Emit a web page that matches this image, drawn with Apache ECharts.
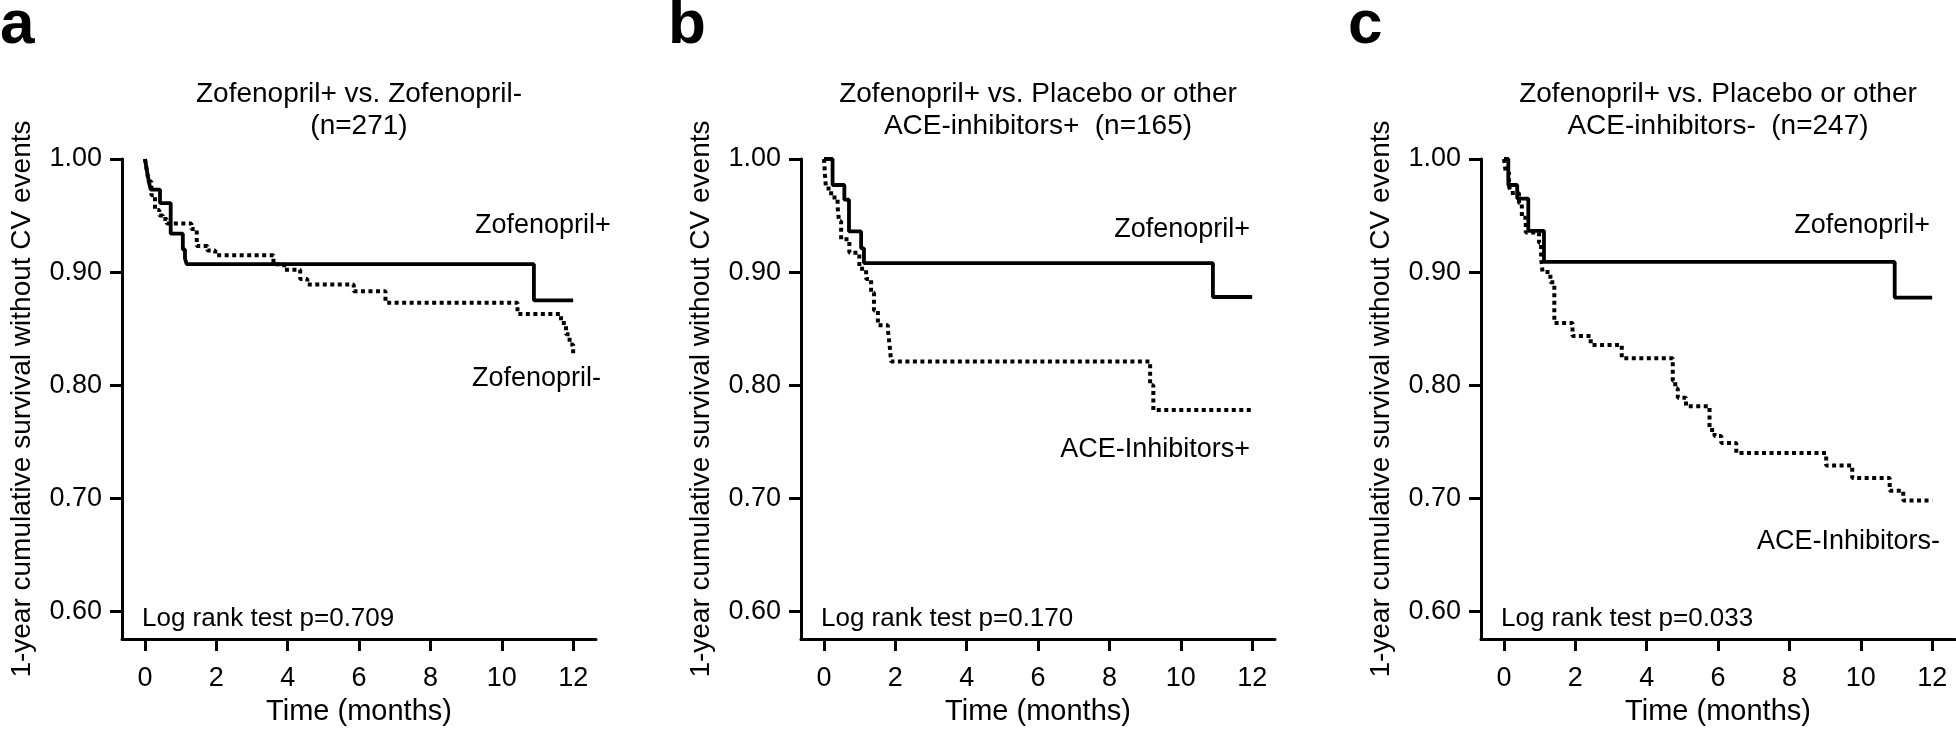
<!DOCTYPE html>
<html><head><meta charset="utf-8">
<script src="https://cdn.jsdelivr.net/npm/echarts@6/dist/echarts.min.js"></script>
<style>html,body{margin:0;padding:0;background:#fff}#chart{width:1956px;height:731px}</style>
</head><body><div id="chart"></div>
<script>
// ---------- data ----------
const panelLetters = ['a', 'b', 'c'];
const titleLine1 = ['Zofenopril+ vs. Zofenopril-', 'Zofenopril+ vs. Placebo or other', 'Zofenopril+ vs. Placebo or other'];
const titleLine2 = ['(n=271)', 'ACE-inhibitors+  (n=165)', 'ACE-inhibitors-  (n=247)'];
const logRankTexts = ['Log rank test p=0.709', 'Log rank test p=0.170', 'Log rank test p=0.033'];
const solidNames = ['Zofenopril+', 'Zofenopril+', 'Zofenopril+'];
const dottedNames = ['Zofenopril-', 'ACE-Inhibitors+', 'ACE-Inhibitors-'];
const xTicks = [0, 2, 4, 6, 8, 10, 12];
const yTicks = [0.6, 0.7, 0.8, 0.9, 1.0];
const xAxisName = 'Time (months)';
const yAxisName = '1-year cumulative survival without CV events';

// panel a
const timeA_solid = [0, 0.04, 0.08, 0.12, 0.16, 0.42, 0.72, 1.06, 1.12, 1.17, 10.9, 12.0];
const survA_solid = [1.0, 0.992, 0.985, 0.978, 0.973, 0.961, 0.934, 0.92, 0.912, 0.907, 0.875, 0.875];
const timeA_dot = [0, 0.05, 0.1, 0.18, 0.28, 0.4, 0.5, 0.61, 1.3, 1.45, 1.75, 1.97, 3.6, 3.9, 4.35, 4.55, 5.85, 6.74, 10.44, 11.66, 11.8, 11.9, 12.0];
const survA_dot = [1.0, 0.99, 0.98, 0.968, 0.955, 0.95, 0.947, 0.943, 0.938, 0.923, 0.919, 0.915, 0.907, 0.902, 0.894, 0.889, 0.883, 0.873, 0.863, 0.855, 0.845, 0.836, 0.828];
// panel b
const timeB_solid = [0, 0.24, 0.57, 0.7, 1.04, 1.12, 10.9, 12.0];
const survB_solid = [1.0, 0.977, 0.964, 0.936, 0.921, 0.908, 0.878, 0.878];
const timeB_dot = [0, 0.03, 0.056, 0.2, 0.38, 0.42, 0.48, 0.71, 0.99, 1.18, 1.32, 1.4, 1.51, 1.79, 1.84, 1.88, 9.14, 9.23, 12.0];
const survB_dot = [1.0, 0.985, 0.974, 0.966, 0.958, 0.945, 0.929, 0.917, 0.903, 0.894, 0.882, 0.866, 0.853, 0.849, 0.835, 0.821, 0.80, 0.778, 0.778];
// panel c
const timeC_solid = [0, 0.12, 0.37, 0.68, 1.12, 10.95, 12.0];
const survC_solid = [1.0, 0.977, 0.965, 0.9365, 0.909, 0.8775, 0.8775];
const timeC_dot = [0, 0.05, 0.14, 0.19, 0.42, 0.5, 0.61, 0.98, 1.04, 1.08, 1.3, 1.41, 1.92, 2.43, 3.3, 4.73, 4.8, 4.87, 5.1, 5.76, 5.9, 6.09, 6.51, 9.03, 9.76, 10.81, 11.19, 12.0];
const survC_dot = [1.0, 0.988, 0.976, 0.970, 0.961, 0.948, 0.935, 0.926, 0.912, 0.9, 0.891, 0.855, 0.8434, 0.8355, 0.8238, 0.804, 0.797, 0.789, 0.7813, 0.7604, 0.755, 0.7488, 0.74, 0.729, 0.718, 0.7066, 0.698, 0.698];

const solidTimes = [timeA_solid, timeB_solid, timeC_solid];
const solidSurv = [survA_solid, survB_solid, survC_solid];
const dotTimes = [timeA_dot, timeB_dot, timeC_dot];
const dotSurv = [survA_dot, survB_dot, survC_dot];

// ---------- layout ----------
const FONT = '"Liberation Sans", Arial, Helvetica, sans-serif';
const gridLeft = [122, 801, 1481];
const gridTop = 159, gridHeight = 486, gridWidth = 474;
const X_MIN = -0.645, X_MAX = 12.64, Y_MIN = 0.5755, Y_MAX = 1.0;

const zip = (t, v) => t.map((x, i) => [x, v[i]]);

const grids = [], xAxes = [], yAxes = [], series = [], graphics = [];
for (let i = 0; i < 3; i++) {
  grids.push({left: gridLeft[i], top: gridTop, width: gridWidth, height: gridHeight, containLabel: false});
  xAxes.push({
    type: 'value', gridIndex: i, min: X_MIN, max: X_MAX,
    axisLine: {show: true, onZero: false, lineStyle: {color: '#000', width: 3}},
    axisTick: {show: true, customValues: xTicks, length: 12, lineStyle: {color: '#000', width: 3}},
    axisLabel: {show: true, customValues: xTicks, color: '#000', fontSize: 27, fontFamily: FONT, margin: 26},
    splitLine: {show: false},
    name: xAxisName, nameLocation: 'middle', nameGap: 55,
    nameTextStyle: {color: '#000', fontSize: 29, fontFamily: FONT}
  });
  yAxes.push({
    type: 'value', gridIndex: i, min: Y_MIN, max: Y_MAX,
    axisLine: {show: true, onZero: false, lineStyle: {color: '#000', width: 3}},
    axisTick: {show: true, customValues: yTicks, length: 12, lineStyle: {color: '#000', width: 3}},
    axisLabel: {show: true, customValues: yTicks, color: '#000', fontSize: 27, fontFamily: FONT, margin: 20,
      formatter: v => v.toFixed(2)},
    splitLine: {show: false},
    name: yAxisName, nameLocation: 'middle', nameGap: 86, nameRotate: 90,
    nameTextStyle: {color: '#000', fontSize: 28, fontFamily: FONT}
  });
  series.push({
    type: 'line', name: dottedNames[i], xAxisIndex: i, yAxisIndex: i, step: 'end',
    symbol: 'none', showSymbol: false, silent: true,
    lineStyle: {color: '#000', width: 4, type: [4, 3.5], cap: 'butt'},
    data: zip(dotTimes[i], dotSurv[i]), z: 3
  });
  series.push({
    type: 'line', name: solidNames[i], xAxisIndex: i, yAxisIndex: i, step: 'end',
    symbol: 'none', showSymbol: false, silent: true,
    lineStyle: {color: '#000', width: 3.8, type: 'solid'},
    data: zip(solidTimes[i], solidSurv[i]), z: 2
  });

  const cx = gridLeft[i] + gridWidth / 2;
  const letterX = [0, 668, 1348][i];
  graphics.push({type: 'text', x: letterX, y: 57,
    style: {text: panelLetters[i], font: 'bold 62px ' + FONT, fill: '#000', textAlign: 'left', textVerticalAlign: 'bottom', align: 'left', verticalAlign: 'bottom'}});
  graphics.push({type: 'text', x: cx, y: 94,
    style: {text: titleLine1[i], font: '28px ' + FONT, fill: '#000', textAlign: 'center', textVerticalAlign: 'middle', align: 'center', verticalAlign: 'middle'}});
  graphics.push({type: 'text', x: cx, y: 126,
    style: {text: titleLine2[i], font: '28px ' + FONT, fill: '#000', textAlign: 'center', textVerticalAlign: 'middle', align: 'center', verticalAlign: 'middle'}});
  graphics.push({type: 'text', x: gridLeft[i] + 20, y: 619,
    style: {text: logRankTexts[i], font: '26px ' + FONT, fill: '#000', textAlign: 'left', textVerticalAlign: 'middle', align: 'left', verticalAlign: 'middle'}});
}
// curve labels
const labelPos = [
  [475, 226, 'left', 472, 379, 'left'],
  [1250, 230, 'right', 1250, 450, 'right'],
  [1930, 226, 'right', 1940, 542, 'right']
];
for (let i = 0; i < 3; i++) {
  const p = labelPos[i];
  graphics.push({type: 'text', x: p[0], y: p[1],
    style: {text: solidNames[i], font: '27px ' + FONT, fill: '#000', textAlign: p[2], textVerticalAlign: 'middle', align: p[2], verticalAlign: 'middle'}});
  graphics.push({type: 'text', x: p[3], y: p[4],
    style: {text: dottedNames[i], font: '27px ' + FONT, fill: '#000', textAlign: p[5], textVerticalAlign: 'middle', align: p[5], verticalAlign: 'middle'}});
}

const chart = echarts.init(document.getElementById('chart'), null, {renderer: 'canvas'});
chart.setOption({
  backgroundColor: '#fff',
  animation: false,
  grid: grids, xAxis: xAxes, yAxis: yAxes, series: series,
  graphic: graphics
});
</script></body></html>
